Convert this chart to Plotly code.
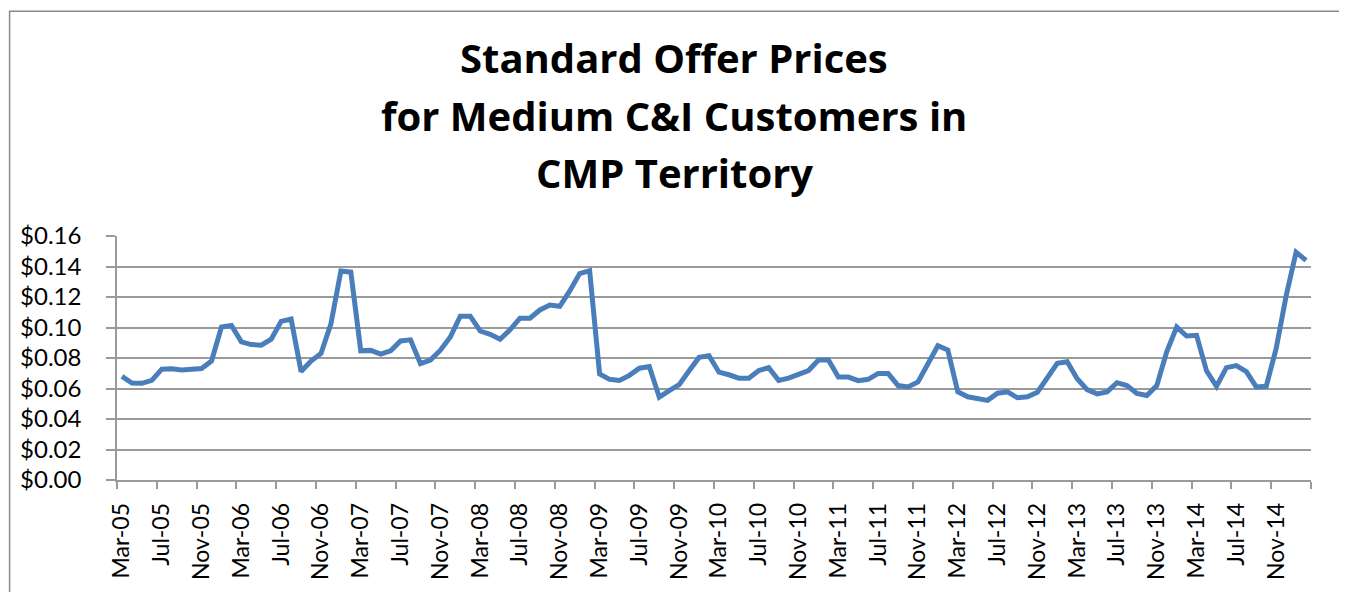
import plotly.graph_objects as go

# Monthly standard offer prices, Mar-05 .. Feb-15 ($/kWh)
prices = [
    0.0679, 0.0636, 0.0634, 0.0653, 0.0727, 0.0729, 0.0722, 0.0727, 0.0731, 0.0780,
    0.1003, 0.1013, 0.0906, 0.0888, 0.0884, 0.0923, 0.1040, 0.1056, 0.0711, 0.0780,
    0.0830, 0.1024, 0.1370, 0.1363, 0.0847, 0.0850, 0.0826, 0.0847, 0.0912, 0.0919,
    0.0763, 0.0787, 0.0851, 0.0938, 0.1074, 0.1074, 0.0977, 0.0955, 0.0923, 0.0985,
    0.1061, 0.1061, 0.1115, 0.1147, 0.1139, 0.1240, 0.1354, 0.1373, 0.0696, 0.0660,
    0.0653, 0.0686, 0.0733, 0.0744, 0.0543, 0.0586, 0.0625, 0.0716, 0.0804, 0.0815,
    0.0707, 0.0690, 0.0668, 0.0668, 0.0718, 0.0737, 0.0653, 0.0668, 0.0690, 0.0718,
    0.0787, 0.0787, 0.0675, 0.0675, 0.0651, 0.0660, 0.0699, 0.0699, 0.0619, 0.0610,
    0.0643, 0.0759, 0.0880, 0.0852, 0.0578, 0.0546, 0.0537, 0.0522, 0.0569, 0.0578,
    0.0539, 0.0546, 0.0576, 0.0673, 0.0765, 0.0776, 0.0664, 0.0593, 0.0565, 0.0578,
    0.0638, 0.0619, 0.0567, 0.0554, 0.0619, 0.0841, 0.1003, 0.0944, 0.0949, 0.0716,
    0.0614, 0.0737, 0.0750, 0.0711, 0.0610, 0.0614, 0.0862, 0.1207, 0.1494, 0.1440,
]

tick_labels = [
    "Mar-05", "Jul-05", "Nov-05", "Mar-06", "Jul-06", "Nov-06", "Mar-07", "Jul-07",
    "Nov-07", "Mar-08", "Jul-08", "Nov-08", "Mar-09", "Jul-09", "Nov-09", "Mar-10",
    "Jul-10", "Nov-10", "Mar-11", "Jul-11", "Nov-11", "Mar-12", "Jul-12", "Nov-12",
    "Mar-13", "Jul-13", "Nov-13", "Mar-14", "Jul-14", "Nov-14",
]

title_lines = ["Standard Offer Prices", "for Medium C&I Customers in", "CMP Territory"]

month_index = list(range(len(prices)))
tick_positions = month_index[::4]

TICK_FONT = "Lato, Open Sans, sans-serif"
TITLE_FONT = "Open Sans, Lato, sans-serif"
GRID = "#9a9a9a"

fig = go.Figure()
fig.add_trace(go.Scatter(
    x=month_index, y=prices, mode="lines",
    line=dict(color="#4a7ebb", width=5),
    hoverinfo="y", showlegend=False,
))

# page has an 8px body margin; figure coordinates = page coordinates - 8
OFF = 8
W, H = 1347 - OFF, 592 - OFF
L, R, T, B = 116 - OFF, 36, 236 - OFF, 109
plot_w = W - L - R
plot_h = H - T - B

def px_x(page_x):
    return (page_x - OFF - L) / plot_w

def px_y(page_y):
    return (H - B - (page_y - OFF)) / plot_h

annotations = []
for line, base in zip(title_lines, [72.7, 130.7, 188.3]):
    annotations.append(dict(
        text="<b>%s</b>" % line, xref="paper", yref="paper",
        x=px_x(673.5), y=px_y(base - 17), xanchor="center", yanchor="middle",
        showarrow=False, font=dict(family=TITLE_FONT, size=40, color="#000000"),
    ))

fig.update_layout(
    width=W, height=H,
    margin=dict(l=L, r=R, t=T, b=B, pad=0),
    paper_bgcolor="white", plot_bgcolor="white",
    annotations=annotations,
    shapes=[dict(type="rect", xref="paper", yref="paper",
                 x0=px_x(8.5), x1=px_x(1340.5), y0=px_y(640), y1=px_y(8.5),
                 line=dict(color="#8a8a8a", width=1.5), fillcolor="rgba(0,0,0,0)",
                 layer="below")],
    font=dict(family=TICK_FONT, color="#000000"),
)

fig.update_xaxes(
    range=[-0.5, len(prices) - 0.5],
    tickmode="array", tickvals=tick_positions, ticktext=tick_labels,
    tickangle=-90, ticks="", ticklabelstandoff=12,
    tickfont=dict(family=TICK_FONT, size=23, color="#000000"),
    showline=True, linecolor=GRID, linewidth=1.5,
    showgrid=False, zeroline=False,
    minor=dict(tickmode="linear", tick0=-0.5, dtick=4, ticks="outside",
               ticklen=7, tickwidth=1.5, tickcolor=GRID, showgrid=False),
)

fig.update_yaxes(
    range=[0, 0.16], tickmode="linear", tick0=0, dtick=0.02,
    tickformat="$.2f",
    tickfont=dict(family=TICK_FONT, size=24, color="#000000"),
    ticks="outside", ticklen=9, tickwidth=1.5, tickcolor=GRID,
    ticklabelstandoff=20,
    showline=True, linecolor=GRID, linewidth=1.5,
    showgrid=True, gridcolor=GRID, gridwidth=1.5,
    zeroline=False,
)

fig.write_html("out.html")
